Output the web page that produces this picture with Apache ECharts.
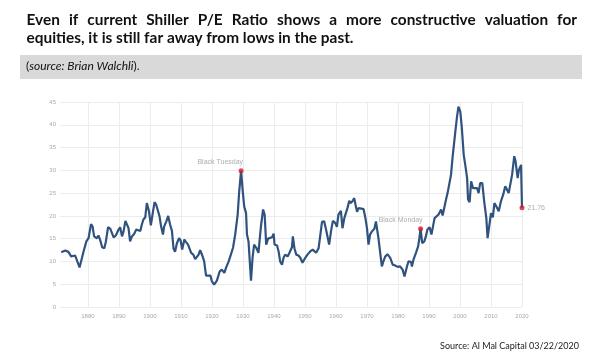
<!DOCTYPE html>
<html>
<head>
<meta charset="utf-8">
<script src="https://cdn.jsdelivr.net/npm/echarts@6/dist/echarts.min.js"></script>
<style>
html,body{margin:0;padding:0;background:#fff;}
#c{width:596px;height:361px;}
</style>
</head>
<body>
<div id="c"></div>
<script>
// ---- data ----
const titleLine1 = 'Even if current Shiller P/E Ratio shows a more constructive valuation for';
const titleLine2 = 'equities, it is still far away from lows in the past.';
const sourceNote = 'source: Brian Walchli';
const footer = 'Source: Al Mal Capital 03/22/2020';

const years = [1871.4,1872.7,1873.7,1874.6,1875.9,1876.5,1877.3,1878.1,1878.6,1879.5,1880.2,1881.0,1881.5,1882.0,1882.9,1883.4,1884.0,1884.6,1885.3,1885.8,1886.5,1887.2,1887.7,1888.3,1889.0,1889.9,1890.4,1891.0,1891.5,1892.1,1892.6,1893.1,1893.6,1894.2,1894.9,1895.6,1896.0,1896.9,1897.4,1897.9,1898.5,1899.0,1899.7,1900.3,1901.0,1901.5,1902.0,1902.6,1903.1,1903.6,1904.2,1904.6,1905.3,1905.9,1906.5,1907.1,1907.6,1908.1,1908.7,1909.4,1909.9,1910.4,1911.1,1911.6,1912.3,1912.8,1913.3,1914.0,1914.6,1915.2,1915.7,1916.2,1916.9,1917.5,1918.1,1918.7,1919.5,1920.0,1920.7,1921.6,1922.5,1923.2,1924.0,1924.6,1925.4,1926.1,1926.8,1927.5,1928.3,1928.8,1929.4,1929.9,1930.4,1931.0,1931.3,1931.8,1932.6,1933.1,1933.6,1934.3,1935.0,1935.8,1936.5,1937.0,1937.5,1938.1,1938.6,1939.4,1939.9,1940.2,1941.0,1941.5,1942.0,1942.6,1943.1,1943.6,1944.4,1945.0,1945.8,1946.1,1946.6,1947.2,1947.9,1948.5,1949.2,1950.1,1950.8,1951.7,1952.5,1953.1,1953.6,1954.4,1954.9,1955.5,1956.2,1956.8,1957.3,1957.8,1958.4,1959.0,1959.8,1960.3,1960.8,1961.6,1962.1,1962.7,1963.2,1963.7,1964.3,1964.8,1965.4,1965.9,1966.3,1966.8,1967.3,1968.2,1968.9,1969.5,1970.0,1970.5,1971.0,1971.6,1972.4,1972.9,1973.7,1974.8,1975.4,1975.9,1976.6,1977.5,1978.3,1979.1,1979.9,1980.7,1981.5,1982.1,1982.9,1983.4,1984.2,1984.5,1985.0,1985.8,1986.5,1986.9,1987.3,1987.8,1988.5,1989.0,1989.5,1990.2,1990.8,1991.3,1991.8,1992.4,1993.1,1993.9,1994.4,1994.9,1995.5,1996.0,1996.5,1997.1,1997.6,1997.8,1998.5,1999.0,1999.5,2000.1,2000.6,2001.2,2001.7,2002.3,2002.6,2003.1,2003.6,2004.2,2004.8,2005.5,2006.0,2006.5,2007.2,2007.8,2008.5,2008.9,2009.5,2010.0,2010.6,2011.1,2011.7,2012.5,2013.2,2013.9,2014.6,2015.2,2015.7,2016.2,2016.8,2017.5,2017.9,2018.6,2019.0,2019.7,2020.0];
const values = [12.0,12.4,12.1,11.1,11.3,11.7,8.7,10.8,12.2,14.4,15.1,18.2,17.7,15.5,15.1,15.7,14.6,13.1,12.9,14.4,17.5,17.2,16.8,15.3,15.7,17.0,17.5,15.5,16.6,18.9,19.2,17.3,14.4,15.5,16.0,17.0,16.6,16.7,18.1,19.2,19.7,22.8,21.0,17.9,21.0,23.0,22.5,22.3,19.9,17.7,15.9,17.7,18.8,20.0,18.1,16.7,12.9,12.1,14.0,15.1,14.6,12.6,14.8,14.3,13.7,13.3,11.9,11.5,10.5,10.6,11.5,12.5,11.3,10.0,6.9,6.5,6.9,5.6,4.9,5.8,7.8,8.2,7.5,8.7,10.0,11.5,13.0,15.9,20.3,25.4,29.9,25.7,22.1,20.6,15.9,14.4,5.8,10.8,13.7,13.0,11.9,17.7,21.4,20.3,13.7,15.0,14.8,15.3,16.1,13.7,13.5,12.2,10.0,9.3,10.8,11.5,11.1,11.9,13.1,15.5,12.9,11.5,11.3,10.8,9.7,10.8,11.5,12.2,12.6,12.9,11.9,12.9,15.5,18.7,18.8,17.0,16.6,13.7,16.6,18.9,18.4,17.6,20.3,21.1,17.3,19.5,20.6,21.7,23.3,22.8,23.3,23.9,22.5,20.9,21.7,21.6,21.5,19.5,17.3,13.7,15.9,16.6,17.2,18.8,15.1,8.9,10.2,11.1,11.6,10.8,9.3,9.1,8.8,8.9,8.2,6.7,8.9,10.0,9.9,8.9,10.4,11.9,13.3,15.1,17.2,14.0,14.4,15.5,17.0,17.5,15.9,17.7,19.5,19.7,20.3,21.4,20.1,20.3,23.6,25.0,25.2,29.0,32.8,32.8,38.5,41.5,44.0,42.9,39.3,33.4,31.2,28.3,23.6,23.0,27.6,26.1,26.5,26.1,25.0,27.2,27.2,23.2,19.5,15.1,18.1,20.6,19.7,22.8,22.1,21.0,23.2,24.6,26.5,26.1,25.0,26.8,29.0,33.1,32.1,28.3,30.1,31.2,21.76];

const eventNames = ['Black Tuesday','Black Monday'];
const eventYears = [1929.4, 1987.3];
const eventValues = [29.9, 17.2];
const latestYear = 2020.0;
const latestValue = 21.76;

const xTicks = [1880,1890,1900,1910,1920,1930,1940,1950,1960,1970,1980,1990,2000,2010,2020];
const yMin = 0, yMax = 45, yStep = 5;
const xMin = 1871, xMax = 2020;

// ---- layout helpers ----
const titleFont = 'bold 15.4px Lato';
const cv = document.createElement('canvas').getContext('2d');
cv.font = titleFont;
const words = titleLine1.split(' ');
const widths = words.map(w => cv.measureText(w).width);
const left = 26.5, right = 577;
const total = widths.reduce((a,b)=>a+b,0);
const gap = (right - left - total) / (words.length - 1);
const graphics = [];
let cx = left;
words.forEach((w,i) => {
  graphics.push({type:'text', left:cx, top:13, style:{text:w, font:titleFont, fill:'#111'}});
  cx += widths[i] + gap;
});
graphics.push({type:'text', left:left, top:31, style:{text:titleLine2, font:titleFont, fill:'#111'}});
graphics.push({type:'rect', shape:{x:20, y:55, width:562, height:24}, style:{fill:'#d9d9d9'}, z:-1});
graphics.push({type:'text', left:26, top:60, style:{
  text:'{n|(}{i|' + sourceNote + '}{n|).}',
  rich:{n:{fontFamily:'Lato', fontSize:12, fill:'#111'}, i:{fontFamily:'Lato', fontStyle:'italic', fontSize:12, fill:'#111'}}
}});
graphics.push({type:'text', right:17, top:342, style:{text:footer, fontFamily:'Lato', fontSize:9, fill:'#222'}});

const chart = echarts.init(document.getElementById('c'), null, {renderer:'canvas'});
chart.setOption({
  animation:false,
  backgroundColor:'#fff',
  graphic:graphics,
  grid:{left:60, right:74, top:102, bottom:54},
  xAxis:{
    type:'value', min:xMin, max:xMax,
    axisLine:{show:false},
    axisTick:{show:false, customValues:xTicks},
    axisLabel:{customValues:xTicks, formatter:v=>String(v), color:'#aaa', fontSize:6, fontFamily:'Arial', margin:6},
    splitLine:{show:true, lineStyle:{color:'#ececec', width:1}}
  },
  yAxis:{
    type:'value', min:yMin, max:yMax, interval:yStep,
    axisLine:{show:false}, axisTick:{show:false},
    axisLabel:{color:'#aaa', fontSize:6, fontFamily:'Arial', margin:4},
    splitLine:{show:true, lineStyle:{color:'#ececec', width:1}}
  },
  series:[
    {
      type:'line', data:years.map((y,i)=>[y, values[i]]),
      showSymbol:false, smooth:false,
      lineStyle:{color:'#30527f', width:2.2}, z:2
    },
    {
      type:'scatter', data:eventYears.map((y,i)=>({value:[y, eventValues[i]], name:eventNames[i]})),
      symbolSize:5, itemStyle:{color:'#d9182a'}, z:3,
      label:{show:true, formatter:p=>p.name, position:'top', align:'right', distance:3, offset:[2,0], color:'#999', fontSize:7, fontFamily:'Arial'}
    },
    {
      type:'scatter', data:[[latestYear, latestValue]], clip:false,
      symbolSize:5, itemStyle:{color:'#d9182a'}, z:3,
      label:{show:true, formatter:p=>String(p.value[1]), position:'right', distance:3, color:'#999', fontSize:7, fontFamily:'Arial'}
    }
  ]
});
</script>
</body>
</html>
